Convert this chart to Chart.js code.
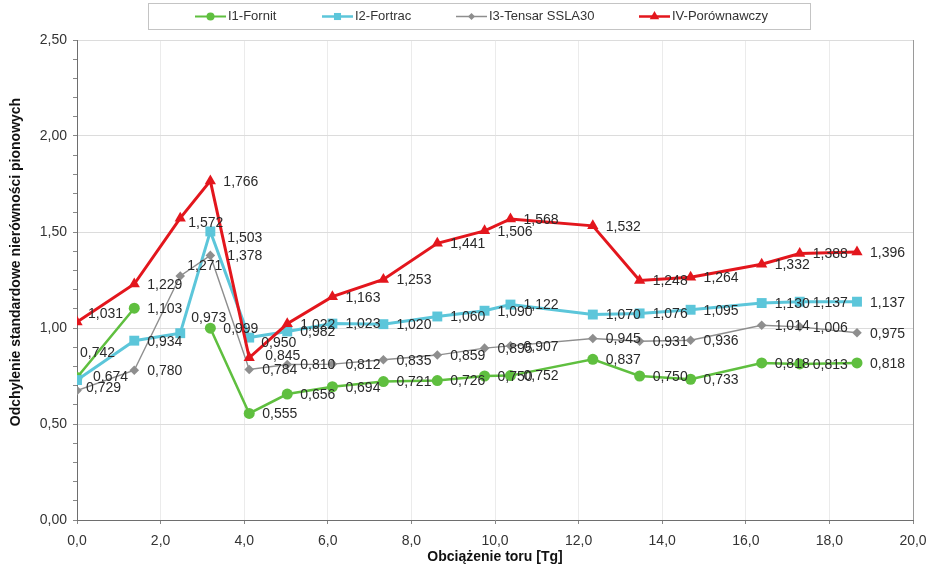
<!DOCTYPE html>
<html><head><meta charset="utf-8">
<script src="https://cdn.jsdelivr.net/npm/chart.js@4.4.0/dist/chart.umd.min.js"></script>
<style>html,body{margin:0;padding:0;background:#fff}#wrap{width:932px;height:569px;position:relative}</style>
</head><body><div id="wrap"><canvas id="c"></canvas></div>
<script>
// ---- data ----
const loads   = [0, 1.37, 2.47, 3.19, 4.12, 5.03, 6.11, 7.33, 8.62, 9.75, 10.37, 12.34, 13.46, 14.68, 16.38, 17.29, 18.66];
const fornit  = [0.742, 1.103, null, 0.999, 0.555, 0.656, 0.694, 0.721, 0.726, 0.750, 0.752, 0.837, 0.750, 0.733, 0.818, 0.813, 0.818];
const fortrac = [0.729, 0.934, 0.973, 1.503, 0.950, 0.982, 1.023, 1.020, 1.060, 1.090, 1.122, 1.070, 1.076, 1.095, 1.130, 1.137, 1.137];
const tensar  = [0.674, 0.780, 1.271, 1.378, 0.784, 0.810, 0.812, 0.835, 0.859, 0.895, 0.907, 0.945, 0.931, 0.936, 1.014, 1.006, 0.975];
const porown  = [1.031, 1.229, 1.572, 1.766, 0.845, 1.022, 1.163, 1.253, 1.441, 1.506, 1.568, 1.532, 1.248, 1.264, 1.332, 1.388, 1.396];
const seriesNames = ['I1-Fornit', 'I2-Fortrac', 'I3-Tensar SSLA30', 'IV-Porównawczy'];
const xTitle = 'Obciążenie toru [Tg]';
const yTitle = 'Odchylenie standardowe nierówności pionowych';
const xMin = 0, xMax = 20, xStep = 2;
const yMin = 0, yMax = 2.5, yMinorStep = 0.1, yMajorStep = 0.5;

// label placement tweaks (pixels), keyed "series:index"
const labelShift = {
  '0:0': [3, -25], '1:0': [9, 7], '2:0': [16, -14], '3:0': [11, -9],
  '1:2': [11, -16], '2:2': [7, -11], '3:2': [8, 4],
  '1:3': [17, 6], '2:3': [17, 0],
  '3:4': [16, -3], '1:4': [12, 5]
};

const fmt = (v, d) => v.toFixed(d).replace('.', ',');
const pts = arr => arr.map((v, i) => ({x: loads[i], y: v}));

const styles = [
  {color: '#5fbf3f', style: 'circle',   r: 5.5, lw: 2.5, lr: 4},
  {color: '#5cc6da', style: 'rect',     r: 7,   lw: 3,   lr: 5},
  {color: '#8e8e8e', style: 'rectRot',  r: 4.8, lw: 1.4, lr: 3.5},
  {color: '#e3161d', style: 'triangle', r: 6.5, lw: 3,   lr: 5.5}
];
const seriesData = [fornit, fortrac, tensar, porown];

const datasets = seriesData.map((arr, i) => ({
  label: seriesNames[i],
  data: pts(arr),
  borderColor: styles[i].color,
  backgroundColor: styles[i].color,
  borderWidth: styles[i].lw,
  pointStyle: styles[i].style,
  pointRadius: styles[i].r,
  pointHoverRadius: styles[i].r,
  pointBorderWidth: 0,
  pointBackgroundColor: styles[i].color,
  tension: 0,
  spanGaps: false,
  order: 4 - i
}));

function marker(ctx, style, x, y, r, color) {
  ctx.save();
  ctx.fillStyle = color;
  ctx.beginPath();
  if (style === 'circle') { ctx.arc(x, y, r, 0, Math.PI * 2); }
  else if (style === 'rect') { const s = r * Math.SQRT1_2; ctx.rect(x - s, y - s, 2 * s, 2 * s); }
  else if (style === 'rectRot') { ctx.moveTo(x, y - r); ctx.lineTo(x + r, y); ctx.lineTo(x, y + r); ctx.lineTo(x - r, y); ctx.closePath(); }
  else if (style === 'triangle') { ctx.moveTo(x, y - r); ctx.lineTo(x + r * 0.866, y + r / 2); ctx.lineTo(x - r * 0.866, y + r / 2); ctx.closePath(); }
  ctx.fill();
  ctx.restore();
}

const legendItems = [
  {x1: 195, x2: 226, tx: 228},
  {x1: 322, x2: 353, tx: 355},
  {x1: 456, x2: 487, tx: 489},
  {x1: 639, x2: 670, tx: 672}
];

const extras = {
  id: 'extras',
  afterDatasetsDraw(chart) {
    const ctx = chart.ctx;
    ctx.save();
    ctx.font = '14px "Liberation Sans", Arial, sans-serif';
    ctx.fillStyle = '#2a2a2a';
    ctx.textAlign = 'left';
    ctx.textBaseline = 'middle';
    chart.data.datasets.forEach((ds, di) => {
      const meta = chart.getDatasetMeta(di);
      meta.data.forEach((p, j) => {
        const v = ds.data[j].y;
        if (v === null || v === undefined) return;
        const sh = labelShift[di + ':' + j] || [13, 0];
        ctx.fillText(fmt(v, 3), p.x + sh[0], p.y + 1 + sh[1]);
      });
    });
    ctx.restore();
  },
  afterDraw(chart) {
    const ctx = chart.ctx, a = chart.chartArea;
    ctx.save();
    // right border
    ctx.strokeStyle = '#9a9a9a'; ctx.lineWidth = 1;
    ctx.beginPath(); ctx.moveTo(Math.round(a.right) + 0.5, a.top); ctx.lineTo(Math.round(a.right) + 0.5, a.bottom); ctx.stroke();
    // legend box
    ctx.fillStyle = '#fff';
    ctx.fillRect(148, 3, 662, 26);
    ctx.strokeStyle = '#c4c4c4';
    ctx.strokeRect(148.5, 3.5, 662, 26);
    ctx.font = '13px "Liberation Sans", Arial, sans-serif';
    ctx.textBaseline = 'middle';
    ctx.textAlign = 'left';
    legendItems.forEach((it, i) => {
      const s = styles[i], y = 16.5;
      ctx.strokeStyle = s.color; ctx.lineWidth = Math.max(1.5, s.lw - 0.5);
      ctx.beginPath(); ctx.moveTo(it.x1, y); ctx.lineTo(it.x2, y); ctx.stroke();
      marker(ctx, s.style, (it.x1 + it.x2) / 2, y, s.lr, s.color);
      ctx.fillStyle = '#333';
      ctx.fillText(seriesNames[i], it.tx, y);
    });
    // axis titles
    ctx.fillStyle = '#111';
    ctx.font = 'bold 14px "Liberation Sans", Arial, sans-serif';
    ctx.textAlign = 'center';
    ctx.textBaseline = 'middle';
    ctx.fillText(xTitle, (a.left + a.right) / 2, 557);
    ctx.translate(16, 262);
    ctx.rotate(-Math.PI / 2);
    ctx.fillText(yTitle, 0, 0);
    ctx.restore();
  }
};

const isMajor = v => Math.abs(Math.round(v * 10) % Math.round(yMajorStep * 10)) === 0;

new Chart(document.getElementById('c'), {
  type: 'line',
  data: {datasets},
  options: {
    responsive: true,
    maintainAspectRatio: false,
    animation: false,
    layout: {padding: {top: 40, right: 19, left: 0, bottom: 0}},
    plugins: {legend: {display: false}, tooltip: {enabled: false}},
    scales: {
      x: {
        type: 'linear', min: xMin, max: xMax,
        ticks: {stepSize: xStep, callback: v => fmt(v, 1), color: '#333', font: {size: 14, family: '"Liberation Sans", Arial, sans-serif'}, padding: 9, maxRotation: 0},
        grid: {color: '#ebebeb', tickColor: '#888', tickLength: 4},
        border: {color: '#6e6e6e', width: 1},
        afterFit: s => { s.height = 49; s.paddingLeft = 0; s.paddingRight = 0; }
      },
      y: {
        type: 'linear', min: yMin, max: yMax,
        ticks: {stepSize: yMinorStep, autoSkip: false, callback: v => isMajor(v) ? fmt(v, 2) : '', color: '#333', font: {size: 14, family: '"Liberation Sans", Arial, sans-serif'}, padding: 6},
        grid: {color: c => (c.tick && isMajor(c.tick.value)) ? '#dcdcdc' : 'rgba(0,0,0,0)', tickColor: '#888', tickLength: 4},
        border: {color: '#6e6e6e', width: 1},
        afterFit: s => { s.width = 77; s.paddingTop = 0; s.paddingBottom = 0; }
      }
    }
  },
  plugins: [extras]
});
</script>
</body></html>
